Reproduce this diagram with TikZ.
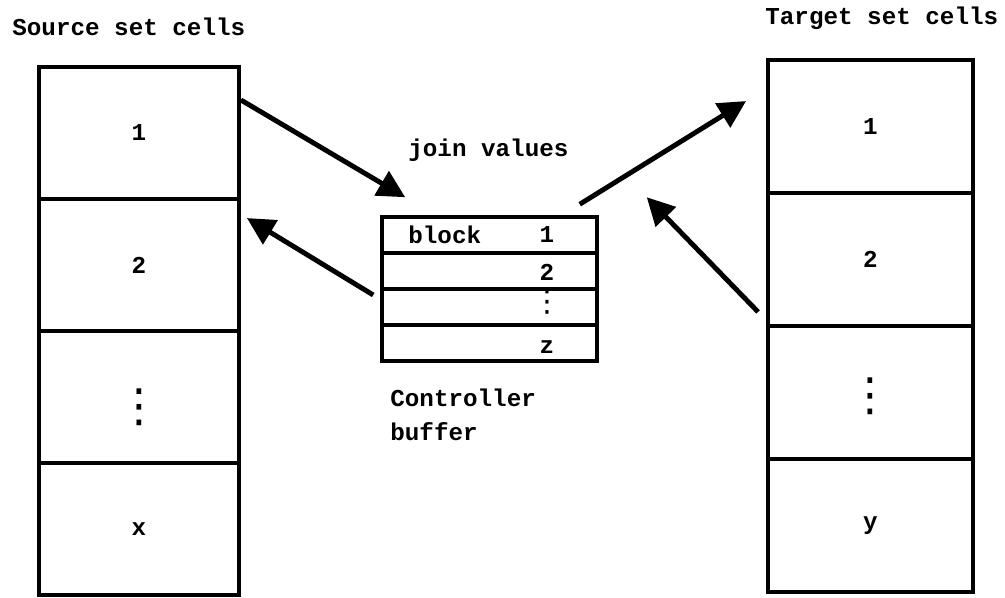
\documentclass[tikz,border=0pt]{standalone}
\usepackage{fontspec}
\setmainfont{Liberation Mono}
\newfontfamily\symfont{DejaVu Sans}
\usetikzlibrary{arrows.meta,positioning}

\begin{document}
\begin{tikzpicture}[font=\bfseries\fontsize{13.8}{19}\selectfont,
  cell/.style={draw,line width=2.2pt,minimum width=4cm,minimum height=2.64cm,inner sep=0pt},
  tcell/.style={cell,minimum width=4.1cm,minimum height=2.66cm},
  brow/.style={draw,line width=2pt,minimum width=4.3cm,minimum height=0.72cm,inner sep=0pt},
  lbl/.style={inner sep=0pt},
  vdts/.style={inner sep=0pt,font=\symfont\fontsize{26}{26}\selectfont},
  bdts/.style={vdts,font=\symfont\fontsize{17}{17}\selectfont},
  arrw/.style={-{Triangle[length=5.5mm,width=5.5mm]},line width=2.8pt}]
\useasboundingbox (0,0) rectangle (20.1,-11.96);

\node[lbl,anchor=west] (srclbl) at (0.24,-0.54) {Source set cells};
\node[cell] (src1) at (2.78,-2.66) {1};
\node[cell] (src2) at (2.78,-5.30) {2};
\node[cell] (src3) at (2.78,-7.94) {};
\node[cell] (src4) at (2.78,-10.58) {x};
\node[vdts] (srcdots) at (2.78,-8.14) {⋮};

\node[lbl,anchor=west] (tgtlbl) at (15.3,-0.36) {Target set cells};
\node[tcell] (tgt1) at (17.41,-2.53) {1};
\node[tcell] (tgt2) at (17.41,-5.19) {2};
\node[tcell] (tgt3) at (17.41,-7.85) {};
\node[tcell] (tgt4) at (17.41,-10.51) {y};
\node[vdts] (tgtdots) at (17.41,-7.92) {⋮};

\node[lbl,anchor=west] (join) at (8.16,-3.0) {join values};
\node[brow] (buf1) at (9.79,-4.70) {};
\node[brow] (buf2) at (9.79,-5.42) {};
\node[brow] (buf3) at (9.79,-6.14) {};
\node[brow] (buf4) at (9.79,-6.86) {};
\node[lbl,anchor=west] (blk) at (8.16,-4.70) {block};
\node[lbl] (bv1) at (10.94,-4.70) {1};
\node[lbl] (bv2) at (10.94,-5.44) {2};
\node[bdts] (bdots) at (10.94,-6.04) {⋮};
\node[lbl] (bvz) at (10.94,-6.94) {z};
\node[lbl,anchor=west,align=left] (ctrl) at (7.8,-8.3) {Controller\\buffer};

\draw[arrw] ([yshift=0.66cm]src1.east) -- ([shift={(0.5,0.36)}]buf1.north west);
\draw[arrw] ([shift={(-0.14,0.24)}]buf3.west) -- ([shift={(0.12,-0.42)}]src2.north east);
\draw[arrw] ([shift={(-0.38,0.22)}]buf1.north east) -- ([shift={(-0.4,-0.86)}]tgt1.north west);
\draw[arrw] ([shift={(-0.16,0.32)}]tgt2.south west) -- ([shift={(0.96,0.36)}]buf1.north east);
\end{tikzpicture}
\end{document}
